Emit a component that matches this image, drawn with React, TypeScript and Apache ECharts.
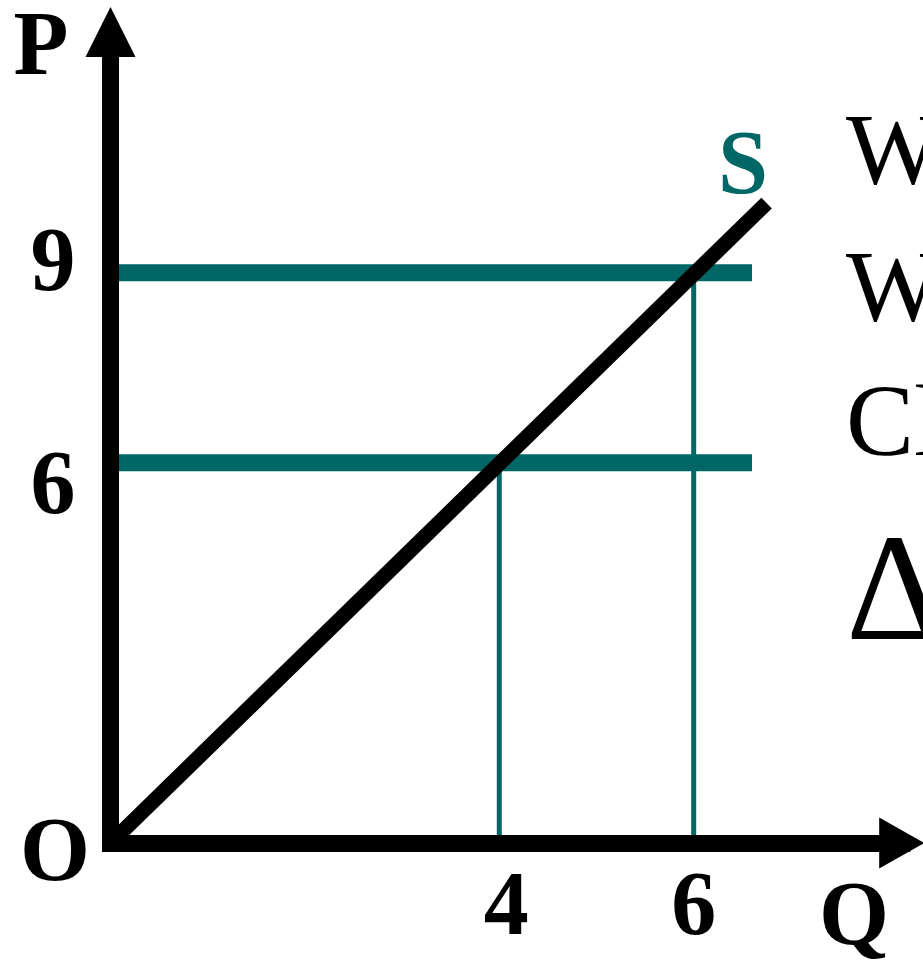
import React, { useEffect, useRef } from 'react';
import * as echarts from 'echarts';

const TEAL = '#006666';
const SERIF = '"Liberation Serif", "Times New Roman", serif';

// Supply curve S (P = 1.5 Q) drawn from the origin to its end point
const supplyPoints: number[][] = [[0, 0], [6.75, 10.1]];
// Price levels drawn as horizontal lines, and where they stop on the Q axis
const priceLevels: number[] = [9, 6];
const priceLineEnd = 6.6;
// Quantity supplied at each price: [Q, P]
const equilibria: number[][] = [[4, 6], [6, 9]];
// Tick labels shown on the axes
const xTickLabels: number[] = [4, 6];
const yTickLabels: number[] = [6, 9];
// Axis extents
const xMax = 8.14;
const yMax = 12.8;
// Text cut off at the right edge of the slide
const sideTexts: string[] = ['W', 'W', 'Cl', 'Δ'];

export default function App() {
  const ref = useRef<HTMLDivElement>(null);

  useEffect(() => {
    if (!ref.current) return;
    const chart = echarts.init(ref.current, undefined, { renderer: 'svg' });

    const labelFont = { fontFamily: SERIF, fontWeight: 'bold' as const, fontSize: 90, lineHeight: 90, color: '#000' };

    const series: any[] = [];
    priceLevels.forEach((p) => {
      series.push({
        type: 'line',
        data: [[0, p], [priceLineEnd, p]],
        symbol: 'none',
        silent: true,
        lineStyle: { color: TEAL, width: 17, cap: 'butt' },
        z: 2,
      });
    });
    equilibria.forEach(([q, p]) => {
      series.push({
        type: 'line',
        data: [[q, 0], [q, p]],
        symbol: 'none',
        silent: true,
        lineStyle: { color: TEAL, width: 5, cap: 'butt' },
        z: 2,
      });
    });
    series.push({
      type: 'line',
      data: supplyPoints,
      symbol: 'none',
      silent: true,
      lineStyle: { color: '#000', width: 15, cap: 'butt' },
      z: 3,
    });

    const sideY = [149, 286, 420, 588];
    const sideSize = [102, 102, 102, 152];

    chart.setOption({
      animation: false,
      backgroundColor: '#fff',
      grid: { left: 110.5, top: 32, width: 791.2, height: 811, containLabel: false, outerBoundsMode: 'none' },
      xAxis: {
        type: 'value',
        min: 0,
        max: xMax,
        interval: 2,
        z: 10,
        axisLine: {
          show: true,
          onZero: true,
          symbol: ['none', 'triangle'],
          symbolSize: [51, 45],
          lineStyle: { color: '#000', width: 17, cap: 'square' },
        },
        axisTick: { show: false },
        splitLine: { show: false },
        axisLabel: {
          ...labelFont,
          margin: 15,
          showMinLabel: true,
          showMaxLabel: false,
          formatter: (v: number) => (xTickLabels.includes(v) ? (v === 4 ? '{a|' + v + '}' : '{b|' + v + '}') : ''),
          rich: {
            a: { ...labelFont, padding: [0, 0, 0, 14] },
            b: { ...labelFont },
          },
        },
      },
      yAxis: {
        type: 'value',
        min: 0,
        max: yMax,
        interval: 3,
        z: 10,
        axisLine: {
          show: true,
          onZero: true,
          symbol: ['none', 'triangle'],
          symbolSize: [50, 50],
          lineStyle: { color: '#000', width: 17, cap: 'square' },
        },
        axisTick: { show: false },
        splitLine: { show: false },
        axisLabel: {
          ...labelFont,
          margin: 35,
          showMaxLabel: false,
          formatter: (v: number) => (yTickLabels.includes(v) ? (v === 9 ? '{a|' + v + '}' : '{b|' + v + '}') : ''),
          rich: {
            a: { ...labelFont, padding: [0, 0, 26, 0] },
            b: { ...labelFont, padding: [40, 0, 0, 0] },
          },
        },
      },
      series,
      graphic: [
        { type: 'text', x: 41, y: 43, silent: true, style: { text: 'P', fontFamily: SERIF, fontWeight: 'bold', fontSize: 90, lineHeight: 76, fill: '#000', textAlign: 'center', textVerticalAlign: 'middle' } },
        { type: 'text', x: 55, y: 849, silent: true, style: { text: 'O', fontFamily: SERIF, fontWeight: 'bold', fontSize: 90, fill: '#000', textAlign: 'center', textVerticalAlign: 'middle' } },
        { type: 'text', x: 854, y: 913, silent: true, style: { text: 'Q', fontFamily: SERIF, fontWeight: 'bold', fontSize: 90, fill: '#000', textAlign: 'center', textVerticalAlign: 'middle' } },
        { type: 'text', x: 743, y: 162, silent: true, style: { text: 'S', fontFamily: SERIF, fontWeight: 'bold', fontSize: 90, fill: TEAL, textAlign: 'center', textVerticalAlign: 'middle' } },
        ...sideTexts.map((t, i) => ({
          type: 'text',
          x: 846,
          y: sideY[i],
          silent: true,
          style: { text: t, fontFamily: SERIF, fontWeight: 'normal', fontSize: sideSize[i], fill: '#000', textAlign: 'left', textVerticalAlign: 'middle' },
        })),
      ],
    });

    return () => chart.dispose();
  }, []);

  return <div ref={ref} style={{ position: 'absolute', left: 0, top: 0, width: 923, height: 963, overflow: 'hidden' }} />;
}
